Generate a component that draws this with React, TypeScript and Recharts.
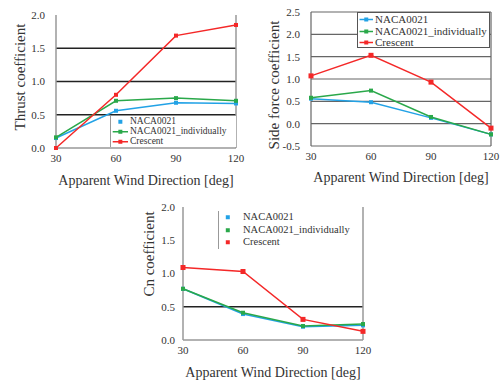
import React from 'react';
import { LineChart, Line, XAxis, YAxis, ReferenceLine, Legend } from 'recharts';

const directions = [30, 60, 90, 120];
const seriesNames = ['NACA0021', 'NACA0021_individually', 'Crescent'];

const thrustNaca = [0.15, 0.56, 0.68, 0.67];
const thrustIndiv = [0.16, 0.71, 0.75, 0.71];
const thrustCrescent = [0.0, 0.8, 1.69, 1.85];

const sideNaca = [0.56, 0.48, 0.13, -0.24];
const sideIndiv = [0.58, 0.74, 0.15, -0.24];
const sideCrescent = [1.07, 1.53, 0.93, -0.1];

const cnNaca = [0.77, 0.39, 0.2, 0.22];
const cnIndiv = [0.77, 0.41, 0.21, 0.24];
const cnCrescent = [1.09, 1.03, 0.31, 0.13];

const xTicks = [30, 60, 90, 120];
const thrustTicks = [0, 0.5, 1.0, 1.5, 2.0];
const thrustGrid = [0.5, 1.0, 1.5];
const sideTicks = [-0.5, 0, 0.5, 1.0, 1.5, 2.0, 2.5];
const sideGrid = [0, 0.5, 1.0, 1.5, 2.0, 2.5];
const cnTicks = [0, 0.5, 1.0, 1.5, 2.0];
const cnGrid = [0.5];

const xTitle = 'Apparent Wind Direction [deg]';

const BLUE = '#22a2e6';
const GREEN = '#2aa84a';
const RED = '#f42828';
const seriesColors = [BLUE, GREEN, RED];
const FONT = '"Liberation Serif", "DejaVu Serif", serif';
const TXT = '#333';

const build = (a: number[], b: number[], c: number[]) =>
  directions.map((d, i) => ({ dir: d, naca: a[i], indiv: b[i], crescent: c[i] }));

const thrustData = build(thrustNaca, thrustIndiv, thrustCrescent);
const sideData = build(sideNaca, sideIndiv, sideCrescent);
const cnData = build(cnNaca, cnIndiv, cnCrescent);

const squareDot = (color: string, size: number) => (props: any) => {
  const { cx, cy, index } = props;
  if (cx == null || cy == null) return <g key={index} />;
  return <rect key={index} x={cx - size / 2} y={cy - size / 2} width={size} height={size} fill={color} />;
};

const fmt = (v: number) => v.toFixed(1);

const yTitle = (text: string, cx: number, cy: number, size: number) => () => (
  <text
    x={cx}
    y={cy}
    transform={`rotate(-90 ${cx} ${cy})`}
    textAnchor="middle"
    dominantBaseline="central"
    fontFamily={FONT}
    fontSize={size}
    fill={TXT}
  >
    {text}
  </text>
);

const xTitleLabel = (cy: number, size: number) => (props: any) => {
  const vb = props.viewBox || {};
  const cx = (vb.x ?? 0) + (vb.width ?? 0) / 2;
  return (
    <text x={cx} y={cy} textAnchor="middle" dominantBaseline="central" fontFamily={FONT} fontSize={size} fill={TXT}>
      {xTitle}
    </text>
  );
};

type LegendOpts = {
  rows: number[];
  fontSize: number;
  iconW: number;
  textLeft: number;
  showLine: boolean[];
  box: React.CSSProperties;
};

const makeLegend = (o: LegendOpts) => () => (
  <div style={{ position: 'relative', width: '100%', height: '100%', boxSizing: 'border-box', background: '#fff', ...o.box }}>
    {seriesNames.map((name, i) => (
      <div
        key={name}
        style={{
          position: 'absolute',
          left: 0,
          top: o.rows[i] - o.fontSize / 2,
          height: o.fontSize,
          lineHeight: `${o.fontSize}px`,
          display: 'flex',
          alignItems: 'center',
          fontFamily: FONT,
          fontSize: o.fontSize,
          color: TXT,
          whiteSpace: 'nowrap',
        }}
      >
        <svg width={o.textLeft} height={o.fontSize} style={{ display: 'block', flex: 'none' }}>
          {o.showLine[i] && (
            <line x1={o.iconW * 0.1} x2={o.iconW} y1={o.fontSize / 2} y2={o.fontSize / 2} stroke={seriesColors[i]} strokeWidth={1.5} />
          )}
          <rect x={o.iconW * 0.55 - 2} y={o.fontSize / 2 - 2} width={4} height={4} fill={seriesColors[i]} />
        </svg>
        <span>{name}</span>
      </div>
    ))}
  </div>
);

const tickStyle = { fontFamily: FONT, fontSize: 11, fill: TXT };

const seriesLines = (redSize: number) => [
  <Line key="naca" dataKey="naca" name={seriesNames[0]} stroke={BLUE} strokeWidth={1.5} dot={squareDot(BLUE, 4)} isAnimationActive={false} />,
  <Line key="indiv" dataKey="indiv" name={seriesNames[1]} stroke={GREEN} strokeWidth={1.5} dot={squareDot(GREEN, 4)} isAnimationActive={false} />,
  <Line key="crescent" dataKey="crescent" name={seriesNames[2]} stroke={RED} strokeWidth={1.5} dot={squareDot(RED, redSize)} isAnimationActive={false} />,
];

function ThrustChart() {
  return (
    <LineChart width={250} height={190} data={thrustData} margin={{ top: 15, right: 14, left: 0, bottom: 0 }}>
      {thrustGrid.map((g) => (
        <ReferenceLine key={g} y={g} stroke="#222" strokeWidth={1.5} />
      ))}
      <ReferenceLine x={120} stroke="#999" strokeWidth={1.5} />
      <XAxis
        dataKey="dir"
        type="number"
        domain={[30, 120]}
        ticks={xTicks}
        height={42}
        tickLine={false}
        tickSize={4}
        axisLine={{ stroke: '#999', strokeWidth: 1.5 }}
        tick={tickStyle}
        label={{ content: xTitleLabel(180, 14) }}
      />
      <YAxis
        type="number"
        domain={[0, 2]}
        ticks={thrustTicks}
        width={56}
        tickFormatter={fmt}
        tickLine={false}
        tickSize={8}
        tickMargin={3}
        axisLine={{ stroke: '#999', strokeWidth: 1.5 }}
        tick={tickStyle}
        label={{ content: yTitle('Thrust coefficient', 20, 77, 15) }}
      />
      {seriesLines(4)}
      <Legend
        layout="horizontal"
        verticalAlign="middle"
        align="center"
        wrapperStyle={{ left: 110, top: 116, width: 126, height: 31 }}
        content={makeLegend({
          rows: [6, 16, 26],
          fontSize: 9.5,
          iconW: 17,
          textLeft: 19,
          showLine: [false, true, true],
          box: { borderLeft: '1.5px solid #999' },
        })}
      />
    </LineChart>
  );
}

function SideChart() {
  return (
    <LineChart width={252} height={190} data={sideData} margin={{ top: 12, right: 11, left: 0, bottom: 0 }}>
      {sideGrid.map((g) => (
        <ReferenceLine key={g} y={g} stroke="#666" strokeWidth={1.2} />
      ))}
      <ReferenceLine x={120} stroke="#666" strokeWidth={1.2} />
      <XAxis
        dataKey="dir"
        type="number"
        domain={[30, 120]}
        ticks={xTicks}
        height={44}
        tickLine={false}
        tickSize={4}
        axisLine={{ stroke: '#666', strokeWidth: 1.2 }}
        tick={tickStyle}
        label={{ content: xTitleLabel(177, 14) }}
      />
      <YAxis
        type="number"
        domain={[-0.5, 2.5]}
        ticks={sideTicks}
        width={61}
        tickFormatter={fmt}
        tickLine={false}
        tickSize={8}
        tickMargin={3}
        axisLine={{ stroke: '#666', strokeWidth: 1.2 }}
        tick={tickStyle}
        label={{ content: yTitle('Side force  coefficient', 24, 85, 15) }}
      />
      {seriesLines(5)}
      <Legend
        layout="horizontal"
        verticalAlign="middle"
        align="center"
        wrapperStyle={{ left: 107, top: 12, width: 133, height: 36 }}
        content={makeLegend({
          rows: [6, 18, 29],
          fontSize: 11,
          iconW: 15,
          textLeft: 17,
          showLine: [true, true, true],
          box: { border: '1.2px solid #555' },
        })}
      />
    </LineChart>
  );
}

function CnChart() {
  return (
    <LineChart width={250} height={191} data={cnData} margin={{ top: 17, right: 17, left: 0, bottom: 0 }}>
      {cnGrid.map((g) => (
        <ReferenceLine key={g} y={g} stroke="#222" strokeWidth={1.5} />
      ))}
      <ReferenceLine x={120} stroke="#999" strokeWidth={1.5} />
      <XAxis
        dataKey="dir"
        type="number"
        domain={[30, 120]}
        ticks={xTicks}
        height={41}
        tickLine={false}
        tickSize={4}
        axisLine={{ stroke: '#999', strokeWidth: 1.5 }}
        tick={tickStyle}
        label={{ content: xTitleLabel(182, 14) }}
      />
      <YAxis
        type="number"
        domain={[0, 2]}
        ticks={cnTicks}
        width={53}
        tickFormatter={fmt}
        tickLine={false}
        tickSize={6}
        tickMargin={2}
        axisLine={{ stroke: '#999', strokeWidth: 1.5 }}
        tick={tickStyle}
        label={{ content: yTitle('Cn  coefficient', 19, 64, 15) }}
      />
      {seriesLines(5)}
      <Legend
        layout="horizontal"
        verticalAlign="middle"
        align="center"
        wrapperStyle={{ left: 88, top: 21, width: 140, height: 38 }}
        content={makeLegend({
          rows: [6, 19, 31],
          fontSize: 10.5,
          iconW: 16,
          textLeft: 24,
          showLine: [false, false, false],
          box: { borderLeft: '1.5px solid #999', background: 'transparent' },
        })}
      />
    </LineChart>
  );
}

export default function App() {
  return (
    <div style={{ position: 'absolute', left: 0, top: 0, width: 502, height: 381, background: '#fff', overflow: 'hidden' }}>
      <div style={{ position: 'absolute', left: 0, top: 0 }}>
        <ThrustChart />
      </div>
      <div style={{ position: 'absolute', left: 250, top: 0 }}>
        <SideChart />
      </div>
      <div style={{ position: 'absolute', left: 130, top: 190 }}>
        <CnChart />
      </div>
    </div>
  );
}
